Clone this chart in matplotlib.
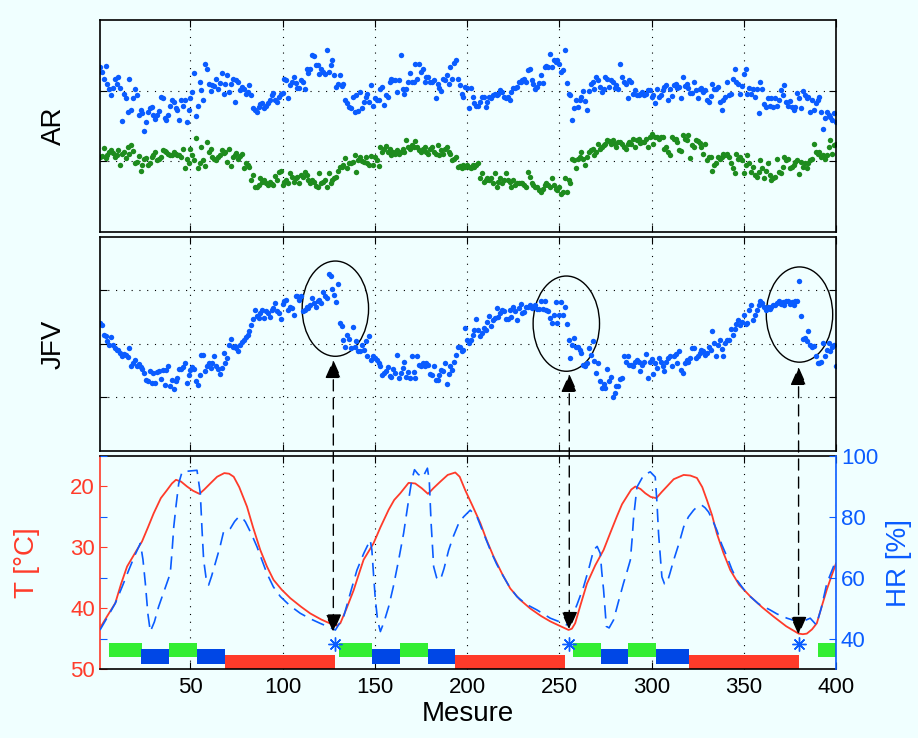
import numpy as np
import matplotlib
matplotlib.use('Agg')
import matplotlib.pyplot as plt
from matplotlib.patches import Ellipse, ConnectionPatch

plt.rcParams['font.family'] = ['Liberation Sans', 'DejaVu Sans']

BG = '#F0FFFF'
RED = '#FF3B2A'
BLUE = '#0A5CFF'
GREEN = '#1E8C1E'
BAR_GREEN = '#33EE33'
BAR_BLUE = '#0047E6'

# ---------------- data ----------------
mesure = np.arange(1, 401)

ar_hi = [
    2.34, 2.27, 2.17, 2.35, 2.10, 2.03, 1.94, 2.04, 2.17, 2.10,
    2.20, 2.04, 1.57, 1.96, 1.90, 1.70, 2.16, 1.72, 1.89, 2.02,
    1.94, 1.65, 1.73, 1.68, 1.43, 1.56, 1.70, 1.75, 1.77, 1.65,
    1.60, 1.65, 1.71, 1.91, 1.90, 1.61, 1.58, 1.65, 1.79, 1.87,
    1.84, 1.75, 1.72, 1.59, 1.87, 1.78, 1.87, 1.56, 1.72, 1.89,
    1.98, 2.25, 1.64, 1.79, 2.12, 2.01, 1.87, 2.38, 2.31, 2.10,
    2.00, 2.08, 2.06, 2.17, 2.03, 2.11, 2.25, 1.96, 2.10, 2.22,
    1.98, 2.10, 2.16, 1.84, 2.15, 2.12, 2.01, 2.05, 2.03, 1.95,
    1.98, 2.08, 1.94, 1.75, 1.73, 1.70, 1.77, 1.81, 1.83, 1.75,
    1.78, 1.82, 1.87, 1.94, 1.97, 1.87, 1.84, 1.91, 1.96, 1.97,
    2.17, 2.15, 1.90, 2.08, 2.12, 2.20, 2.11, 2.04, 2.04, 2.15,
    2.12, 2.03, 2.31, 2.25, 2.31, 2.50, 2.49, 2.37, 2.36, 2.24,
    2.30, 2.27, 2.23, 2.57, 2.27, 2.36, 2.44, 2.22, 2.05, 2.10,
    2.22, 2.06, 2.10, 1.87, 1.82, 1.77, 1.75, 1.91, 1.70, 1.94,
    1.71, 1.98, 1.75, 1.84, 1.91, 1.96, 1.84, 2.08, 1.78, 1.89,
    1.87, 1.87, 2.03, 2.05, 1.80, 1.94, 1.91, 2.12, 2.17, 2.15,
    2.15, 1.98, 2.15, 2.51, 2.03, 1.96, 2.02, 2.12, 2.25, 2.12,
    2.12, 2.38, 2.17, 2.38, 2.27, 2.31, 2.12, 2.20, 2.19, 2.12,
    2.12, 2.15, 1.89, 2.10, 2.04, 1.99, 2.17, 2.15, 2.22, 2.10,
    2.34, 2.16, 2.39, 2.43, 2.16, 2.08, 1.96, 1.91, 2.05, 2.04,
    1.75, 2.04, 1.91, 1.82, 1.79, 1.79, 1.84, 1.91, 1.91, 1.77,
    1.84, 1.91, 1.89, 1.94, 1.96, 1.94, 1.96, 2.01, 1.98, 1.91,
    1.89, 1.91, 1.87, 1.98, 2.04, 2.04, 2.05, 2.12, 2.12, 2.15,
    2.16, 2.12, 2.29, 2.31, 2.15, 2.10, 2.03, 2.05, 2.11, 2.22,
    2.11, 2.34, 2.35, 2.34, 2.52, 2.33, 2.43, 2.41, 2.44, 2.38,
    2.27, 2.29, 2.58, 2.11, 1.96, 1.94, 1.59, 1.75, 1.87, 1.77,
    1.87, 1.91, 1.99, 1.86, 1.72, 1.99, 2.10, 2.12, 2.03, 2.20,
    2.15, 2.05, 1.98, 2.02, 2.20, 2.17, 2.05, 2.15, 2.12, 2.04,
    2.08, 2.03, 2.38, 2.20, 2.12, 2.10, 1.89, 2.15, 2.12, 1.96,
    2.01, 1.94, 1.94, 1.96, 1.98, 1.94, 1.96, 2.01, 2.01, 1.91,
    1.94, 1.82, 2.03, 1.91, 1.94, 2.01, 2.05, 2.08, 1.87, 2.02,
    1.92, 2.08, 2.10, 2.04, 2.05, 1.90, 2.19, 2.06, 2.10, 2.04,
    1.97, 1.97, 2.12, 2.01, 1.89, 2.03, 2.04, 1.98, 2.01, 1.87,
    1.84, 1.92, 2.10, 2.02, 2.03, 2.05, 1.84, 1.72, 1.87, 1.91,
    2.12, 1.94, 1.96, 2.17, 2.31, 2.12, 2.09, 1.95, 2.06, 2.23,
    2.30, 1.96, 2.04, 1.96, 2.02, 1.91, 2.03, 1.68, 2.12, 2.02,
    1.81, 1.77, 1.89, 1.78, 1.89, 1.77, 1.89, 1.78, 1.87, 2.01,
    1.94, 2.08, 1.84, 1.78, 1.86, 1.77, 1.72, 1.77, 1.97, 1.89,
    1.76, 1.99, 1.94, 1.89, 1.91, 1.70, 1.87, 1.72, 1.82, 1.87,
    1.91, 1.70, 1.46, 1.61, 1.70, 1.65, 1.63, 1.58, 1.68, 1.56,
]

ar_lo = [
    1.06, 1.07, 1.19, 1.05, 1.09, 1.13, 1.16, 1.12, 1.06, 1.09,
    1.16, 0.95, 1.11, 1.13, 1.05, 1.20, 1.11, 1.23, 1.14, 0.98,
    0.99, 1.07, 0.87, 0.95, 1.03, 1.05, 0.95, 0.98, 1.06, 1.09,
    1.13, 1.02, 1.03, 1.06, 1.16, 1.15, 1.13, 1.10, 1.09, 1.09,
    1.13, 1.10, 1.09, 1.09, 1.06, 1.18, 0.90, 1.04, 0.97, 1.18,
    1.09, 1.02, 1.33, 0.90, 0.97, 1.21, 1.02, 0.93, 1.28, 1.13,
    1.18, 1.06, 1.03, 1.02, 1.06, 1.09, 1.16, 1.12, 1.13, 0.99,
    1.18, 0.94, 1.06, 1.09, 1.12, 1.04, 1.07, 1.10, 0.90, 0.97,
    0.95, 0.92, 0.73, 0.80, 0.64, 0.64, 0.66, 0.76, 0.71, 0.73,
    0.70, 0.66, 0.71, 0.68, 0.66, 0.79, 0.73, 0.85, 0.87, 0.66,
    0.71, 0.73, 0.70, 0.84, 0.78, 0.71, 0.76, 0.78, 0.70, 0.80,
    0.78, 0.85, 0.80, 0.74, 0.69, 0.73, 0.71, 0.65, 0.64, 0.84,
    0.69, 0.71, 0.73, 0.64, 0.84, 0.69, 0.73, 0.76, 0.78, 0.87,
    0.92, 0.92, 0.95, 1.05, 0.90, 0.97, 0.98, 0.99, 1.09, 0.85,
    1.02, 1.06, 1.01, 0.99, 1.06, 0.97, 0.95, 1.07, 0.95, 1.06,
    1.02, 0.93, 1.20, 1.13, 1.18, 1.22, 1.13, 1.18, 1.09, 1.13,
    1.11, 1.16, 1.11, 1.13, 1.18, 1.13, 1.30, 1.20, 1.18, 1.23,
    1.21, 1.29, 1.20, 1.16, 1.13, 1.18, 1.20, 1.13, 1.11, 1.18,
    1.20, 1.13, 1.11, 1.23, 1.09, 1.16, 1.11, 1.18, 1.20, 1.13,
    1.10, 1.02, 1.04, 1.06, 0.92, 0.93, 0.90, 0.95, 0.92, 0.95,
    0.92, 0.90, 0.95, 0.92, 0.95, 0.97, 0.76, 0.83, 0.71, 0.73,
    0.76, 0.73, 0.76, 0.69, 0.83, 0.64, 0.71, 0.76, 0.69, 0.73,
    0.84, 0.73, 0.71, 0.64, 0.73, 0.66, 0.69, 0.70, 0.69, 0.70,
    0.66, 0.64, 0.85, 0.78, 0.70, 0.66, 0.64, 0.64, 0.59, 0.57,
    0.61, 0.66, 0.69, 0.66, 0.64, 0.76, 0.66, 0.61, 0.59, 0.64,
    0.54, 0.57, 0.76, 0.57, 0.73, 0.69, 1.03, 1.02, 0.90, 1.03,
    1.06, 1.13, 1.04, 0.95, 1.06, 1.13, 1.16, 1.18, 1.09, 1.13,
    1.25, 1.18, 1.20, 1.23, 1.24, 1.30, 1.29, 1.25, 1.30, 1.24,
    1.20, 1.28, 1.28, 1.25, 1.21, 1.18, 1.24, 1.28, 1.25, 1.32,
    1.20, 1.30, 1.32, 1.26, 1.28, 1.28, 1.31, 1.20, 1.35, 1.38,
    1.24, 1.34, 1.35, 1.32, 1.34, 1.35, 1.18, 1.20, 1.13, 1.09,
    1.34, 1.31, 1.32, 1.28, 1.16, 1.15, 1.37, 1.32, 1.30, 1.37,
    1.05, 1.23, 1.20, 1.30, 1.29, 1.26, 1.20, 1.11, 1.24, 1.02,
    1.06, 1.06, 0.87, 0.95, 0.97, 1.06, 1.04, 1.06, 1.11, 1.09,
    1.11, 1.06, 0.97, 0.90, 0.83, 1.10, 1.03, 1.06, 1.02, 0.83,
    0.95, 1.09, 0.97, 0.85, 0.92, 0.80, 0.78, 0.85, 1.02, 0.90,
    0.76, 0.87, 0.97, 0.80, 0.74, 0.76, 0.78, 1.04, 0.85, 0.83,
    0.92, 1.06, 1.02, 1.03, 0.90, 0.92, 0.95, 0.99, 1.02, 0.82,
    0.99, 0.92, 0.97, 0.90, 0.97, 1.02, 1.04, 1.25, 1.13, 1.11,
    1.13, 1.06, 1.09, 1.04, 1.09, 1.20, 1.30, 1.11, 1.23, 1.24,
]

jfv = [
    2.39, 2.36, 2.17, 2.15, 2.05, 1.99, 2.13, 1.99, 1.92, 1.88,
    1.88, 1.84, 1.77, 1.82, 1.80, 1.75, 1.93, 1.58, 1.65, 1.70,
    1.59, 1.63, 1.57, 1.53, 1.45, 1.32, 1.30, 1.49, 1.28, 1.45,
    1.28, 1.47, 1.49, 1.34, 1.52, 1.24, 1.52, 1.58, 1.22, 1.33,
    1.15, 1.30, 1.36, 1.53, 1.53, 1.57, 1.64, 1.27, 1.42, 1.52,
    1.57, 1.53, 1.30, 1.24, 1.42, 1.79, 1.79, 1.49, 1.58, 1.64,
    1.55, 1.64, 1.77, 1.59, 1.53, 1.44, 1.55, 1.83, 1.65, 1.74,
    1.98, 2.09, 1.94, 1.97, 1.92, 1.86, 1.98, 2.03, 2.08, 2.13,
    2.17, 2.24, 2.36, 2.47, 2.64, 2.53, 2.48, 2.58, 2.64, 2.48,
    2.61, 2.58, 2.50, 2.64, 2.67, 2.77, 2.61, 2.58, 2.47, 2.75,
    2.80, 2.82, 2.64, 2.70, 2.67, 2.55, 2.89, 2.89, 2.83, 2.89,
    2.61, 2.64, 2.69, 2.67, 2.73, 2.86, 2.77, 2.70, 2.80, 2.83,
    2.77, 2.97, 2.89, 2.86, 3.31, 3.27, 3.03, 2.92, 2.78, 3.12,
    2.39, 2.33, 2.08, 1.95, 2.17, 2.09, 1.92, 2.31, 1.95, 2.05,
    1.86, 1.86, 1.98, 1.88, 2.05, 1.77, 2.14, 1.70, 1.78, 1.74,
    1.70, 1.64, 1.58, 1.42, 1.45, 1.49, 1.57, 1.40, 1.39, 1.53,
    1.45, 1.80, 1.36, 1.45, 1.55, 1.67, 1.39, 1.47, 1.36, 1.77,
    1.47, 1.36, 1.77, 1.61, 1.58, 1.64, 1.58, 1.64, 1.61, 1.44,
    1.42, 1.58, 1.33, 1.33, 1.42, 1.52, 1.49, 1.64, 1.26, 1.44,
    1.58, 1.52, 1.67, 1.80, 1.95, 1.94, 1.86, 1.89, 2.30, 2.08,
    2.02, 2.08, 2.17, 2.27, 2.47, 2.27, 2.14, 2.20, 2.30, 2.27,
    2.42, 2.52, 2.33, 2.45, 2.48, 2.67, 2.50, 2.58, 2.64, 2.61,
    2.47, 2.47, 2.64, 2.50, 2.70, 2.61, 2.44, 2.67, 2.75, 2.58,
    2.59, 2.69, 2.70, 2.72, 2.67, 2.69, 2.73, 2.65, 2.65, 2.81,
    2.65, 2.81, 2.64, 2.61, 2.48, 2.40, 2.55, 2.78, 2.39, 2.55,
    2.78, 2.55, 2.70, 2.37, 2.08, 1.74, 1.99, 2.12, 1.95, 1.94,
    1.89, 1.84, 1.61, 1.59, 1.64, 1.92, 1.80, 2.05, 1.69, 1.45,
    1.64, 1.30, 1.17, 1.25, 1.17, 1.53, 1.30, 1.39, 1.00, 1.08,
    1.21, 1.22, 1.34, 1.36, 1.78, 1.67, 1.77, 1.61, 1.61, 1.58,
    1.67, 1.70, 1.67, 1.50, 1.61, 1.67, 1.82, 1.36, 1.67, 1.72,
    1.44, 1.64, 1.55, 1.74, 1.67, 1.58, 1.49, 1.67, 1.74, 1.77,
    1.58, 1.77, 1.82, 1.64, 1.86, 1.52, 1.45, 1.64, 1.70, 1.67,
    1.74, 1.92, 1.92, 1.74, 1.77, 1.83, 1.89, 1.86, 1.80, 1.84,
    1.95, 1.89, 2.24, 2.02, 1.77, 1.98, 2.08, 1.90, 1.78, 2.02,
    2.08, 2.08, 2.28, 2.17, 2.28, 2.38, 2.45, 2.36, 2.42, 2.55,
    2.38, 2.39, 2.64, 2.73, 2.45, 2.55, 2.64, 2.73, 2.80, 2.77,
    2.70, 2.64, 2.69, 2.65, 2.70, 2.72, 2.73, 2.77, 2.80, 2.75,
    2.78, 2.73, 2.80, 2.81, 2.75, 2.78, 2.73, 2.80, 2.81, 3.17,
    2.53, 2.09, 2.11, 2.05, 2.24, 1.99, 1.95, 1.97, 1.78, 1.65,
    1.64, 1.67, 2.02, 1.77, 1.89, 2.02, 1.86, 1.95, 1.98, 1.59,
]

# temperature (red, left axis, inverted) and humidity (blue dashed, right axis)
t_x = [1, 5, 9.3, 12.5, 15.7, 20, 23.8, 27, 30.1, 34, 37.3, 40, 42.2, 45, 48.2,
       51.5, 54.9, 57.5, 60.8, 64.5, 68.4, 71, 73.5, 76.5, 80.7, 84, 87.9, 91.5,
       95.1, 99.5, 104.2, 110, 115, 121, 127.7, 129.5, 131.3, 134.5, 138.5, 141.5,
       143.9, 149.3, 153, 157.5, 160.5, 163.8, 168.3, 171.9, 175.5, 178.8, 182,
       185.5, 189.5, 193.6, 196, 199, 203, 207.2, 210.5, 214.4, 219, 223.4, 228.5,
       234.3, 240, 245.1, 250, 255.0, 256.8, 258.6, 261.5, 265, 269.5, 274, 277.5,
       281.2, 284, 286.7, 289, 291.2, 294, 296.6, 299.5, 302.6, 305.5, 308.3, 312,
       317.4, 321, 324.6, 327.5, 330, 332.8, 335.4, 339, 342.7, 347.5, 353.5, 360,
       366.1, 373, 379.7, 382, 384.2, 387, 389.6, 392.5, 395, 397.5, 400]
t_val = [43.3, 41.3, 39.2, 36.0, 33.2, 31.0, 29.1, 26.8, 24.5, 22.0, 20.7, 19.6, 19.0,
         19.3, 20.1, 20.8, 21.3, 20.6, 19.6, 18.5, 17.9, 18.0, 18.5, 20.2, 23.4, 26.8,
         30.5, 33.2, 35.4, 37.0, 38.4, 39.8, 40.9, 41.9, 42.8, 42.9, 42.5, 40.2, 37.1,
         34.3, 32.1, 29.4, 26.8, 23.9, 22.3, 21.2, 19.5, 19.6, 20.4, 21.3, 20.3, 19.3,
         18.2, 17.8, 18.5, 20.7, 23.3, 26.1, 28.8, 31.6, 34.4, 36.8, 38.6, 40.1, 41.3,
         42.2, 42.9, 43.6, 43.4, 42.5, 39.5, 36.0, 33.0, 30.5, 27.8, 25.0, 23.0, 21.7,
         20.6, 20.1, 20.5, 21.2, 21.8, 22.0, 21.0, 20.1, 18.9, 18.2, 18.3, 18.7, 20.2,
         22.3, 24.8, 27.8, 31.0, 33.8, 36.2, 38.1, 39.9, 41.4, 43.0, 44.2, 44.3, 44.2,
         43.5, 42.5, 39.5, 37.0, 34.8, 32.7]

hr_x = [1, 5, 9.3, 13, 16.6, 20, 22.9, 24.3, 25.6, 27, 28.3, 30.5, 32.8, 36, 39.1,
        40, 41, 42.3, 43.7, 45.5, 50, 53.6, 55.4, 56.3, 57.2, 58.5, 59.9, 61.5, 63.5,
        66, 68, 71.7, 74, 76.2, 78, 79.8, 83, 86.1, 91.5, 95, 98.8, 104, 109.6, 115,
        120.4, 125, 128.6, 133.1, 136.5, 140.3, 144, 147.5, 148.4, 149.3, 150.3, 151.5,
        153, 155, 157.5, 160, 162.9, 165.6, 168.3, 170, 171.5, 173.5, 176, 178.5,
        179.5, 180.5, 181.9, 183.5, 185.5, 187.5, 190, 192.5, 195.4, 198.1, 201.7,
        205.4, 209, 212.6, 216, 219.8, 223, 227, 232, 237.9, 245.1, 252.3, 254, 256,
        259.5, 263.2, 266, 268.6, 270.5, 272.2, 273, 274, 275.5, 277, 279.4, 282,
        284.8, 286.7, 288.5, 289.5, 290.3, 292.1, 295.7, 299.3, 302, 303, 303.8,
        305.6, 307, 308.3, 310, 312, 315, 317.4, 320, 322.8, 325, 327.3, 329, 330.9,
        333, 335.4, 338, 340.9, 343.5, 346.3, 350, 353.5, 358, 364.3, 368, 373.4,
        377, 380.6, 383, 386, 389.3, 392, 395, 397.5, 400]
hr_val = [42.8, 47.0, 51.6, 57.0, 62.5, 67.5, 71.3, 66.0, 58.1, 48.0, 42.3, 45.5, 50.5,
          56.0, 61.4, 68.0, 76.7, 84.0, 91.0, 94.8, 95.1, 95.3, 87.7, 76.0, 65.8, 60.0,
          57.6, 60.5, 64.7, 70.0, 75.1, 76.2, 78.5, 80.0, 79.8, 78.4, 74.5, 70.2, 61.4,
          57.0, 53.8, 50.8, 48.3, 46.5, 45.0, 43.8, 42.8, 47.2, 54.5, 62.5, 68.0, 72.4,
          69.1, 61.0, 52.7, 46.0, 42.3, 45.5, 50.5, 57.0, 65.8, 74.6, 85.5, 92.0, 95.5,
          94.0, 93.0, 96.0, 92.0, 78.0, 63.6, 60.0, 59.2, 63.0, 69.0, 73.5, 77.8, 80.0,
          82.2, 80.0, 74.5, 69.1, 64.5, 60.3, 57.0, 53.8, 51.3, 49.4, 46.7, 45.0, 44.5,
          46.1, 51.0, 57.1, 63.0, 69.1, 70.3, 68.0, 62.0, 56.0, 44.0, 43.5, 46.1, 52.0,
          58.2, 62.0, 65.8, 73.0, 80.0, 89.8, 93.7, 94.8, 93.1, 84.0, 74.5, 60.3, 58.0,
          58.1, 61.5, 65.8, 71.5, 76.7, 80.0, 82.2, 83.5, 83.8, 83.0, 81.6, 79.0, 75.6,
          71.0, 66.9, 62.8, 59.2, 56.2, 53.8, 51.4, 49.4, 48.1, 46.7, 46.0, 45.6, 45.9,
          46.7, 44.5, 50.0, 58.1, 62.0, 65.8]

# activity phases (start, end) in Mesure units
phase_green = [(5.7, 23.8), (38.6, 53.8), (130.4, 148.4), (163.4, 178.8),
               (257.4, 272.4), (287.4, 302.4), (390.2, 400)]
phase_blue = [(23.2, 38.6), (53.8, 68.6), (148.4, 163.4), (178.8, 193.6),
              (272.4, 287.4), (302.4, 320.3)]
phase_red = [(68.6, 128.2), (193.6, 253.2), (320.3, 380.1)]
band_green = (45.7, 48.1)
band_blue = (46.8, 49.1)
band_red = (47.7, 50.0)

# events: arrows linking temperature minima to JFV drops
event_x = [127.5, 255.4, 379.7]
event_t = [44.0, 43.6, 44.4]
event_jfv = [1.70, 1.44, 1.57]
ell_x = [128.6, 253.8, 380.2]
ell_y = [2.66, 2.38, 2.55]
ell_w = 36.0
ell_h = 1.78
star_x = [128.2, 255.0, 379.7]
star_t = [45.9, 45.9, 45.9]

xticks = [50, 100, 150, 200, 250, 300, 350, 400]

# ---------------- figure ----------------
fig = plt.figure(figsize=(9.18, 7.38), dpi=100, facecolor=BG)
L, W = 0.1089, 0.8018
ax1 = fig.add_axes([L, 0.6856, W, 0.2873])
ax2 = fig.add_axes([L, 0.3889, W, 0.2900])
ax3 = fig.add_axes([L, 0.0935, W, 0.2886])

GRID = dict(color='k', linestyle=(0, (1, 6)), linewidth=0.8)

for ax in (ax1, ax2, ax3):
    ax.set_facecolor(BG)
    ax.set_xlim(1, 400)
    ax.set_xticks(xticks)
    ax.tick_params(direction='in', length=5, width=0.8, top=True, right=True,
                   labelsize=16)
    for s in ax.spines.values():
        s.set_linewidth(1.2)

for ax in (ax1, ax2):
    ax.set_xticklabels([])
    ax.set_yticklabels([])
    ax.grid(True, **GRID)

# top panel
ax1.set_ylim(0, 3)
ax1.set_yticks([1, 2])
ax1.set_yticklabels([])
ax1.plot(mesure, ar_hi, 'o', ms=3.9, color=BLUE, mec='none')
ax1.plot(mesure, ar_lo, 'o', ms=3.9, color=GREEN, mec='none')
ax1.set_ylabel('AR', fontsize=20)
ax1.yaxis.set_label_coords(-0.045, 0.5)

# middle panel
ax2.set_ylim(0, 4)
ax2.set_yticks([1, 2, 3])
ax2.set_yticklabels([])
ax2.plot(mesure, jfv, 'o', ms=3.9, color=BLUE, mec='none')
for cx, cy in zip(ell_x, ell_y):
    ax2.add_patch(Ellipse((cx, cy), ell_w, ell_h, fill=False, ec='k', lw=1.0))
ax2.set_ylabel('JFV', fontsize=20)
ax2.yaxis.set_label_coords(-0.045, 0.5)

# bottom panel
ax3.set_ylim(50, 15.1)
ax3.set_yticks([20, 30, 40, 50])
ax3.grid(True, axis='x', **GRID)
ax3.tick_params(axis='y', colors=RED, labelcolor=RED, right=True)
ax3.spines['left'].set_color(RED)
ax3.set_xticklabels([str(v) for v in xticks])
ax3.tick_params(axis='x', pad=6)

ax3.broken_barh([(a, b - a) for a, b in phase_green], (band_green[0], band_green[1] - band_green[0]),
                facecolor=BAR_GREEN, edgecolor='none', zorder=2)
ax3.broken_barh([(a, b - a) for a, b in phase_blue], (band_blue[0], band_blue[1] - band_blue[0]),
                facecolor=BAR_BLUE, edgecolor='none', zorder=2)
ax3.broken_barh([(a, b - a) for a, b in phase_red], (band_red[0], band_red[1] - band_red[0]),
                facecolor=RED, edgecolor='none', zorder=2)
ax3.plot(t_x, t_val, '-', color=RED, lw=1.3, zorder=3)
ax3.plot(star_x, star_t, ls='none', marker=(8, 2, 0), ms=10, mec=BLUE, mew=1.0, zorder=4)
ax3.set_ylabel('T [°C]', fontsize=20, color=RED)
ax3.yaxis.set_label_coords(-0.082, 0.5)
ax3.set_xlabel('Mesure', fontsize=20, labelpad=2)

ax3r = ax3.twinx()
ax3r.set_ylim(30, 100)
ax3r.set_yticks([40, 60, 80, 100])
ax3r.plot(hr_x, hr_val, color=BLUE, lw=1.2, linestyle=(0, (8, 4.5)), zorder=3)
ax3r.tick_params(axis='y', direction='in', length=5, width=0.8, colors=BLUE,
                 labelcolor=BLUE, labelsize=16, left=True)
ax3r.spines['right'].set_color(BLUE)
ax3r.spines['right'].set_linewidth(1.2)
ax3r.spines['left'].set_visible(False)
ax3r.spines['top'].set_visible(False)
ax3r.spines['bottom'].set_visible(False)
ax3.spines['right'].set_visible(False)
ax3r.set_ylabel('HR [%]', fontsize=20, color=BLUE)
ax3r.yaxis.set_label_coords(1.068, 0.5)

# dashed arrows from temperature minima up to JFV drops
for ex, et, ej in zip(event_x, event_t, event_jfv):
    con = ConnectionPatch(xyA=(ex, ej), coordsA=ax2.transData,
                          xyB=(ex, et), coordsB=ax3.transData,
                          arrowstyle='<|-|>,head_length=0.45,head_width=0.2',
                          mutation_scale=25, shrinkA=0, shrinkB=0,
                          color='k', lw=1.0, linestyle=(0, (8, 5)), zorder=10)
    fig.add_artist(con)

fig.savefig('out.png', dpi=100, facecolor=BG)
